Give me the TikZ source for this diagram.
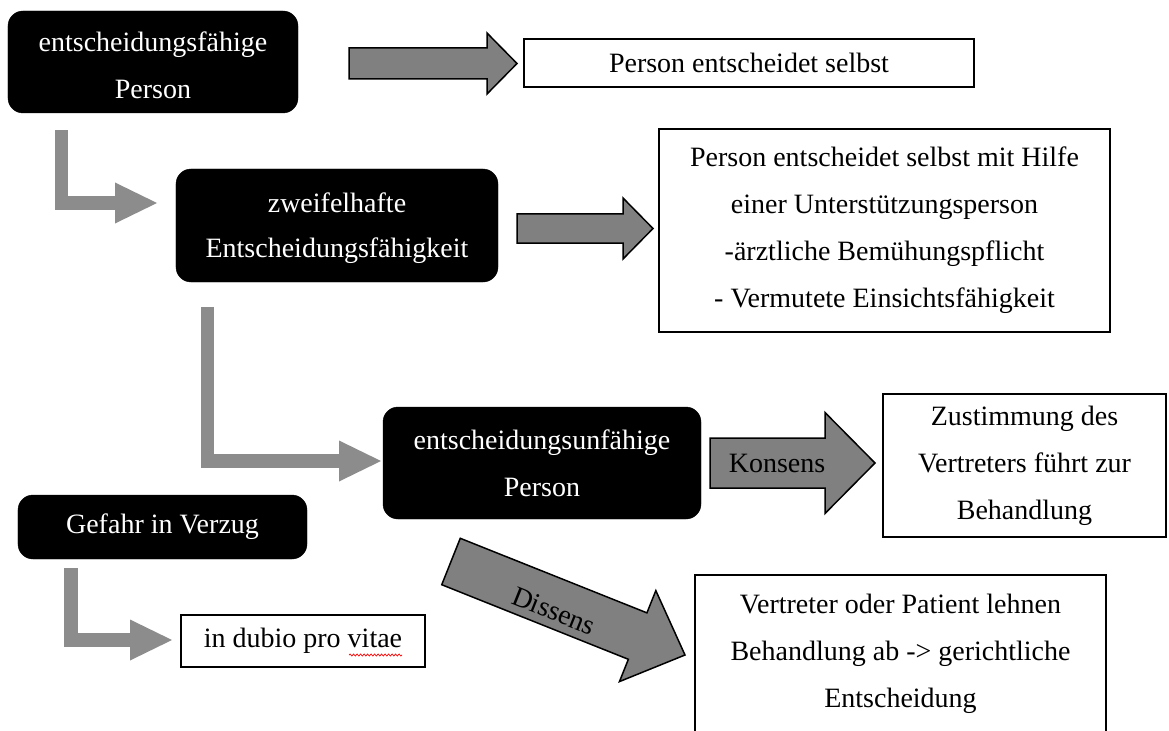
\documentclass[tikz,border=0pt]{standalone}
\usepackage{fontspec}
\setmainfont{Liberation Serif}
\usetikzlibrary{calc,arrows.meta,decorations.pathmorphing}
\definecolor{blockgray}{RGB}{128,128,128}
\definecolor{elbowgray}{RGB}{140,140,140}
\newcommand{\blockarrow}[5]{%
  \coordinate (bab) at ($(#2)!#5!(#1)$);
  \draw[blockarr] ($(#1)!#3!90:(#2)$) -- ($(bab)!#3!90:(#2)$) -- ($(bab)!#4!90:(#2)$) -- (#2)
    -- ($(bab)!#4!-90:(#2)$) -- ($(bab)!#3!-90:(#2)$) -- ($(#1)!#3!-90:(#2)$) -- cycle;}
\newcommand{\upstrut}[1]{\rule{0pt}{#1}}
\tikzset{
  mainfont/.style={font=\fontsize{28bp}{47bp}\selectfont},
  blackbox/.style={mainfont, draw=black, fill=black, rounded corners=15bp, text=white, align=center, inner sep=0pt},
  whitebox/.style={mainfont, draw=black, line width=2bp, fill=white, text=black, align=center, inner sep=0pt},
  blockarr/.style={draw=black, line width=1.5bp, fill=blockgray, line join=miter},
  elbow/.style={draw=elbowgray, line width=13.5bp, line join=miter, line cap=butt,
    -{Triangle[length=42bp,width=41bp,line width=0pt]}},
  arrtext/.style={mainfont, text=black, inner sep=0pt}
}
\begin{document}
\begin{tikzpicture}[x=1bp,y=-1bp]
\useasboundingbox (0,0) rectangle (1169,731);
\fill[white] (0,0) rectangle (1169,731);
\clip (0,0) rectangle (1169,731);

% boxes
\node[blackbox, minimum width=290bp, minimum height=102bp] (b1) at (153,62) {\upstrut{27bp}entscheidungsfähige\\Person};
\node[whitebox, minimum width=450bp, minimum height=48bp] (pes) at (749,63) {Person entscheidet selbst};
\node[blackbox, minimum width=322bp, minimum height=113bp, font=\fontsize{28bp}{45bp}\selectfont] (b2) at (337,225.5) {\upstrut{25bp}zweifelhafte\\Entscheidungsfähigkeit};
\node[whitebox, minimum width=451bp, minimum height=203bp] (hilfe) at (884.5,230.5)
  {Person entscheidet selbst mit Hilfe\\einer Unterstützungsperson\\-ärztliche Bemühungspflicht\\- Vermutete Einsichtsfähigkeit};
\node[blackbox, minimum width=318bp, minimum height=112bp] (b3) at (542,463) {entscheidungsunfähige\\Person};
\node[whitebox, minimum width=283bp, minimum height=143bp] (zust) at (1024.5,465.5) {Zustimmung des\\Vertreters führt zur\\Behandlung};
\node[blackbox, minimum width=289bp, minimum height=64bp] (gefahr) at (162.5,527) {Gefahr in Verzug};
\node[whitebox, minimum width=244bp, minimum height=52bp] (dubio) at (303,641) {in dubio pro vitae};
\node[whitebox, minimum width=411bp, minimum height=158bp] (vert) at (900.5,654)
  {Vertreter oder Patient lehnen\\Behandlung ab -> gerichtliche\\Entscheidung};

% spell-check squiggle
\coordinate (sq1) at (349,655);
\coordinate (sq2) at (402,655);
\draw[red, line width=0.7bp, decorate, decoration={snake, amplitude=1bp, segment length=3.5bp}] (sq1) -- (sq2);

% block arrows
\coordinate (a1t) at (349,63.5);  \coordinate (a1h) at (517,63.5);
\blockarrow{a1t}{a1h}{15.5bp}{30.5bp}{30bp}
\coordinate (a2t) at (517,228.5); \coordinate (a2h) at (653,228.5);
\blockarrow{a2t}{a2h}{14.5bp}{30.5bp}{30bp}
\coordinate (kt) at (710,463);    \coordinate (kh) at (875,463);
\blockarrow{kt}{kh}{25bp}{50.5bp}{50bp}
\node[arrtext] (konsens) at (777,463) {Konsens};
\coordinate (dt) at (451,561.5);  \coordinate (dh) at (685,655);
\blockarrow{dt}{dh}{25bp}{49bp}{51bp}
\node[arrtext, rotate=-21.8] (dissens) at (554,611) {Dissens};

% elbow arrows
\coordinate (e1s) at (61.5,130);  \coordinate (e1e) at (157,203);
\draw[elbow] (e1s) |- (e1e);
\coordinate (e2s) at (207.5,307); \coordinate (e2e) at (381,461);
\draw[elbow] (e2s) |- (e2e);
\coordinate (e3s) at (71,568);    \coordinate (e3e) at (172,640);
\draw[elbow] (e3s) |- (e3e);
\end{tikzpicture}
\end{document}
